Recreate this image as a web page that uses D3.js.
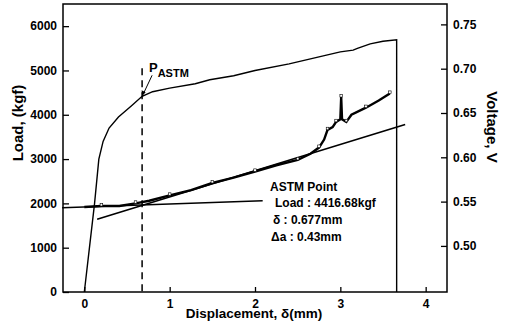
<!DOCTYPE html>
<html>
<head>
<meta charset="utf-8">
<script src="https://cdn.jsdelivr.net/npm/d3@7"></script>
<style>
  body { margin: 0; background: #fff; }
  svg { display: block; font-family: "Liberation Sans", Arial, sans-serif; }
  .axis text { font-size: 12px; font-weight: bold; fill: #000; }
  .axis line { stroke: #000; stroke-width: 1.3; }
</style>
</head>
<body>
<svg id="chart" width="506" height="323"></svg>
<script>
// load vs displacement (kgf)
const loadDisp = [0, 0.06, 0.12, 0.17, 0.22, 0.29, 0.4, 0.55, 0.677, 0.8, 1.0, 1.3, 1.47, 1.75, 2.0, 2.4, 2.8, 3.0, 3.15, 3.2, 3.35, 3.5, 3.66, 3.66];
const loadVals = [0, 1000, 2000, 3000, 3400, 3700, 3950, 4200, 4417, 4520, 4600, 4700, 4790, 4880, 5000, 5150, 5330, 5420, 5460, 5500, 5600, 5660, 5690, 0];

// potential drop voltage (V)
const voltDisp = [0, 0.2, 0.41, 0.6, 0.76, 1.0, 1.25, 1.5, 1.75, 2.0, 2.25, 2.5, 2.65, 2.75, 2.81, 2.85, 2.91, 2.95, 3.0, 3.01, 3.02, 3.07, 3.13, 3.3, 3.45, 3.58];
const voltVals = [0.544, 0.545, 0.545, 0.548, 0.551, 0.557, 0.563, 0.571, 0.577, 0.584, 0.591, 0.597, 0.604, 0.611, 0.620, 0.631, 0.634, 0.640, 0.643, 0.668, 0.643, 0.640, 0.648, 0.656, 0.664, 0.672];

// fitted straight lines (V)
const lineADisp = [-0.26, 2.09];
const lineAVals = [0.543, 0.551];
const lineBDisp = [0.15, 3.76];
const lineBVals = [0.530, 0.637];

// ASTM point
const astmDisp = 0.677;
const astmLoad = 4416.68;
const astmTop = 5050;

const xTicks = [0, 1, 2, 3, 4];
const loadTicks = [0, 1000, 2000, 3000, 4000, 5000, 6000];
const voltTicks = [0.50, 0.55, 0.60, 0.65, 0.70, 0.75];

const noteLines = ["Load : 4416.68kgf", "\u03b4 : 0.677mm", "\u0394a : 0.43mm"];

const plotL = 63, plotR = 447, plotT = 4, plotB = 292;

const svg = d3.select("#chart");

const x = d3.scaleLinear().domain([-0.25, 4.25]).range([plotL, plotR]);
const y = d3.scaleLinear().domain([0, 6500]).range([plotB, plotT]);
const yR = d3.scaleLinear().domain([0.448, 0.773]).range([plotB, plotT]);

// axes, ticks pointing inward
svg.append("g").attr("class", "axis")
  .attr("transform", `translate(0,${plotB})`)
  .call(d3.axisBottom(x).tickValues(xTicks).tickSize(-5).tickPadding(7).tickFormat(d3.format("d")))
  .call(g => g.select(".domain").remove());

svg.append("g").attr("class", "axis")
  .attr("transform", `translate(${plotL},0)`)
  .call(d3.axisLeft(y).tickValues(loadTicks).tickSize(-6).tickPadding(6).tickFormat(d3.format("d")))
  .call(g => g.select(".domain").remove());

svg.append("g").attr("class", "axis")
  .attr("transform", `translate(${plotR},0)`)
  .call(d3.axisRight(yR).tickValues(voltTicks).tickSize(-6).tickPadding(6).tickFormat(d3.format(".2f")))
  .call(g => g.select(".domain").remove());

svg.append("rect")
  .attr("x", plotL).attr("y", plotT)
  .attr("width", plotR - plotL).attr("height", plotB - plotT)
  .attr("fill", "none").attr("stroke", "#000").attr("stroke-width", 1.5);

// axis titles
svg.append("text")
  .attr("transform", `translate(23,123) rotate(-90)`)
  .attr("text-anchor", "middle")
  .style("font-size", "15px").style("font-weight", "bold")
  .text("Load, (kgf)");

svg.append("text")
  .attr("transform", `translate(487,127) rotate(90)`)
  .attr("text-anchor", "middle")
  .style("font-size", "15px").style("font-weight", "bold")
  .text("Voltage, V");

svg.append("text")
  .attr("x", 254).attr("y", 318)
  .attr("text-anchor", "middle")
  .style("font-size", "13.5px").style("font-weight", "bold")
  .text("Displacement, \u03b4(mm)");

const line = d3.line();

// load curve
svg.append("path")
  .attr("d", line(loadDisp.map((d, i) => [x(d), y(loadVals[i])])))
  .attr("fill", "none").attr("stroke", "#000").attr("stroke-width", 1.4);

// fitted lines
svg.append("path")
  .attr("d", line(lineADisp.map((d, i) => [x(d), yR(lineAVals[i])])))
  .attr("fill", "none").attr("stroke", "#000").attr("stroke-width", 1.6);
svg.append("path")
  .attr("d", line(lineBDisp.map((d, i) => [x(d), yR(lineBVals[i])])))
  .attr("fill", "none").attr("stroke", "#000").attr("stroke-width", 1.6);

// voltage curve
svg.append("path")
  .attr("d", line(voltDisp.map((d, i) => [x(d), yR(voltVals[i])])))
  .attr("fill", "none").attr("stroke", "#000").attr("stroke-width", 2.4);

// sparse small open markers along the voltage data
svg.append("g").selectAll("rect")
  .data(voltDisp.map((d, i) => [d, voltVals[i]]).filter((d, i) => i % 2 === 1))
  .join("rect")
  .attr("x", d => x(d[0]) - 1.3).attr("y", d => yR(d[1]) - 2.6)
  .attr("width", 2.6).attr("height", 2.6)
  .attr("fill", "#fff").attr("stroke", "#000").attr("stroke-width", 0.6);

// ASTM dashed line
svg.append("line")
  .attr("x1", x(astmDisp)).attr("x2", x(astmDisp))
  .attr("y1", y(astmTop)).attr("y2", plotB)
  .attr("stroke", "#000").attr("stroke-width", 1.5)
  .attr("stroke-dasharray", "7,5");

// P_ASTM label with arrow
const px = x(astmDisp), py = y(astmLoad);
svg.append("line")
  .attr("x1", px + 10).attr("y1", py - 21)
  .attr("x2", px + 1.5).attr("y2", py - 3)
  .attr("stroke", "#000").attr("stroke-width", 1);
svg.append("path")
  .attr("d", `M${px},${py} l-0.5,-6 l4,2 z`)
  .attr("fill", "#000");

const pLab = svg.append("text")
  .attr("x", 149).attr("y", 72)
  .style("font-weight", "bold").style("font-size", "13px");
pLab.append("tspan").text("P");
pLab.append("tspan").attr("dy", 5).style("font-size", "11px").text("ASTM");

// ASTM point note
svg.append("text")
  .attr("x", 270).attr("y", 191)
  .style("font-size", "12px").style("font-weight", "bold")
  .text("ASTM Point");

svg.append("g").selectAll("text")
  .data(noteLines)
  .join("text")
  .attr("x", (d, i) => 275 - i * 2)
  .attr("y", (d, i) => 207 + i * 17)
  .style("font-size", "12px").style("font-weight", "bold")
  .text(d => d);
</script>
</body>
</html>
